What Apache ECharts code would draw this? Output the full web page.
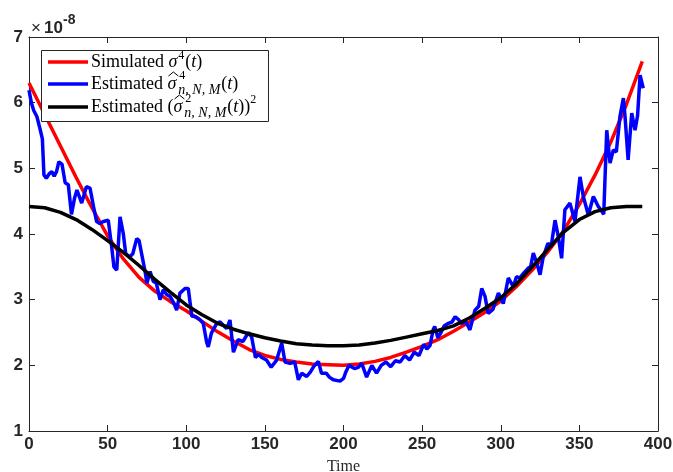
<!DOCTYPE html>
<html>
<head>
<meta charset="utf-8">
<script src="https://cdn.jsdelivr.net/npm/echarts@6/dist/echarts.min.js"></script>
<style>html,body{margin:0;padding:0;background:#fff;}#c{width:673px;height:472px;}</style>
</head>
<body>
<div id="c"></div>
<script>
// ---- data (values in units of 1e-8) ----
const xTicks = [0, 50, 100, 150, 200, 250, 300, 350, 400];
const yTicks = [1, 2, 3, 4, 5, 6, 7];

const redT = [0,10,20,30,40,50,60,70,80,90,100,110,120,130,140,150,160,170,180,190,200,210,220,230,240,250,260,270,280,290,300,310,320,330,340,350,360,370,380,390];
const redV = [6.30,5.82,5.34,4.86,4.40,3.97,3.62,3.34,3.13,2.97,2.83,2.67,2.51,2.37,2.24,2.15,2.09,2.05,2.02,2.01,2.00,2.02,2.06,2.12,2.20,2.29,2.39,2.52,2.66,2.81,2.98,3.20,3.45,3.73,4.05,4.45,4.90,5.40,5.98,6.63];

const blackT = redT;
const blackV = [4.42,4.40,4.33,4.22,4.07,3.90,3.72,3.52,3.31,3.11,2.92,2.77,2.64,2.55,2.48,2.42,2.37,2.33,2.31,2.30,2.30,2.31,2.34,2.38,2.43,2.48,2.53,2.60,2.72,2.87,3.03,3.24,3.50,3.77,4.03,4.22,4.34,4.40,4.42,4.42];

const blueT = [0,1.5,3,5,7,8.5,9.5,11,13,14.5,16,17.5,19,21,23,25,27,29,30.5,33.5,36.5,38.8,41,43,45,47.3,50.4,52.6,54,55.8,57.9,60,61.5,64,66,68.5,70,71.6,73.8,75,77,79,81,83.3,85.4,87.5,89.7,92,93.9,96,99.2,101.3,103.5,106,108.5,110.8,113,114,116,119.4,121.5,124,125.7,127.8,130,131,133,136,139.5,141.6,144,146,148,151,154,157.5,160.7,162.8,166,169,171.3,173.4,176.6,179,181,184,186,189,191,193.5,197.8,200,201.5,203.5,205,207,209.4,211.6,214.7,218,221,224,227,230,233,236,239,242,245,248,251,253,255,257,258,260,262,264,266.7,269,271,273,275,278,280.4,283.6,286,287.9,290,292,295,298.5,301.6,304.8,308,310,312,314.4,317.5,319,320.7,323,325,327,330,332,334.5,336.6,338.7,340.8,344,347.2,350.4,352.5,355.7,358.9,362,364.2,365.5,367.4,369.5,371.6,373.5,375.8,378,379,381,383.3,385.4,387,388.6,390.6];
const blueV = [6.19,6.00,5.88,5.79,5.60,5.45,4.90,4.85,4.92,4.95,4.88,4.95,5.10,5.06,4.78,4.75,4.30,4.55,4.67,4.47,4.72,4.70,4.42,4.19,4.16,4.19,4.21,3.80,3.50,3.45,4.26,4.00,3.70,3.65,3.70,3.93,3.90,3.70,3.43,3.25,3.43,3.28,3.25,3.00,3.15,3.08,3.05,2.95,2.84,3.10,3.17,3.17,2.75,2.74,2.70,2.64,2.35,2.28,2.49,2.64,2.66,2.60,2.56,2.69,2.20,2.18,2.39,2.36,2.50,2.43,2.12,2.17,2.12,2.08,1.97,2.08,2.34,2.05,2.03,2.05,1.78,1.88,1.83,1.90,1.98,2.06,1.88,1.88,1.82,1.78,1.76,1.80,1.90,2.00,1.98,1.95,1.97,2.03,1.82,2.00,1.88,2.00,2.05,1.98,2.07,2.05,2.15,2.08,2.20,2.15,2.32,2.25,2.30,2.54,2.59,2.42,2.50,2.60,2.64,2.66,2.74,2.70,2.64,2.66,2.54,2.84,2.90,3.17,3.05,2.79,2.85,3.10,2.94,3.33,3.20,3.35,3.33,3.40,3.48,3.50,3.71,3.55,3.38,3.65,3.86,3.80,4.21,3.96,3.63,4.37,4.47,4.19,4.87,4.57,4.29,4.57,4.42,4.35,4.30,5.58,5.08,5.28,5.25,5.79,6.07,5.80,5.13,5.84,5.58,5.80,6.42,6.22];

const seriesNames = ['Simulated', 'Estimated hat4', 'Estimated hat2 squared'];
const seriesColors = ['#ff0000', '#0000ff', '#000000'];

// ---- build ----
const zip = (t, v) => t.map((x, i) => [x, v[i]]);
const axisColor = '#262626';
const tickFont = {fontFamily: '"Liberation Sans", Arial, sans-serif', fontSize: 17, fontWeight: 'bold', color: axisColor};

const ctx = document.createElement('canvas').getContext('2d');
function mw(text, font) { ctx.font = font; return ctx.measureText(text).width; }
const F = '18px "Liberation Serif"';
const FI = 'italic 18px "Liberation Serif"';
const S = '12px "Liberation Serif"';
const SI = 'italic 14px "Liberation Serif"';

function rowEls(x0, y, parts) {
  const els = [];
  let x = x0;
  parts.forEach(p => {
    const items = p.stack ? p.stack : [p];
    let adv = 0;
    items.forEach(it => {
      els.push({type: 'text', z: 101, x: x + (it.dx || 0), y: y + (it.dy || 0),
        style: {text: it.t, font: it.f, fill: '#000', textVerticalAlign: 'middle', textAlign: 'left'}});
      adv = Math.max(adv, mw(it.t, it.f) + (it.dx || 0));
    });
    if (p.hat) {
      els.push({type: 'polyline', z: 101,
        shape: {points: [[x + 1, y - 8], [x + adv / 2 + 1.5, y - 12], [x + adv + 2, y - 8]]},
        style: {stroke: '#000', lineWidth: 1, fill: null}});
    }
    x += adv + (p.gap || 0);
  });
  return els;
}

const legendX = 41, legendY = 50, legendW = 227, legendH = 71;
const rows = [62, 84, 107];
const textX = 91;
let graphics = [
  {type: 'rect', z: 100, shape: {x: legendX + 0.5, y: legendY + 0.5, width: legendW, height: legendH},
   style: {fill: '#fff', stroke: axisColor, lineWidth: 1}}
];
rows.forEach((ry, i) => {
  graphics.push({type: 'line', z: 101, shape: {x1: 48, y1: ry, x2: 88, y2: ry},
    style: {stroke: seriesColors[i], lineWidth: 3.5}});
});
graphics = graphics.concat(rowEls(textX, rows[0], [
  {t: 'Simulated ', f: F}, {t: 'σ', f: FI, gap: 1}, {t: '4', f: S, dy: -6, gap: 1},
  {t: '(', f: F}, {t: 't', f: FI}, {t: ')', f: F}
]));
graphics = graphics.concat(rowEls(textX, rows[1], [
  {t: 'Estimated ', f: F}, {t: 'σ', f: FI, gap: 2, hat: true},
  {stack: [{t: '4', f: S, dy: -8, dx: 1}, {t: 'n, N, M', f: SI, dy: 6}], gap: 1},
  {t: '(', f: F}, {t: 't', f: FI}, {t: ')', f: F}
]));
graphics = graphics.concat(rowEls(textX, rows[2], [
  {t: 'Estimated (', f: F}, {t: 'σ', f: FI, gap: 2, hat: true},
  {stack: [{t: '2', f: S, dy: -8, dx: 1}, {t: 'n, N, M', f: SI, dy: 6}], gap: 1},
  {t: '(', f: F}, {t: 't', f: FI}, {t: '))', f: F}, {t: '2', f: S, dy: -7}
]));
// exponent label
graphics.push({type: 'text', z: 101, x: 31, y: 28,
  style: {text: '×', font: '17px "Liberation Sans"', fill: axisColor, textVerticalAlign: 'middle'}});
graphics.push({type: 'text', z: 101, x: 44, y: 28,
  style: {text: '10', font: 'bold 17px "Liberation Sans"', fill: axisColor, textVerticalAlign: 'middle'}});
graphics.push({type: 'text', z: 101, x: 63, y: 20,
  style: {text: '-8', font: 'bold 14px "Liberation Sans"', fill: axisColor, textVerticalAlign: 'middle'}});

const xBase = {type: 'value', min: xTicks[0], max: xTicks[xTicks.length - 1], interval: xTicks[1] - xTicks[0],
  axisLine: {show: true, onZero: false, lineStyle: {color: axisColor, width: 1}},
  axisTick: {show: true, inside: true, length: 6, lineStyle: {color: axisColor}},
  splitLine: {show: false}};
const yBase = {type: 'value', min: yTicks[0], max: yTicks[yTicks.length - 1], interval: yTicks[1] - yTicks[0],
  axisLine: {show: true, onZero: false, lineStyle: {color: axisColor, width: 1}},
  axisTick: {show: true, inside: true, length: 6, lineStyle: {color: axisColor}},
  splitLine: {show: false}};

const option = {
  animation: false,
  backgroundColor: '#fff',
  grid: {left: 29, top: 37, width: 629, height: 394, containLabel: false, outerBoundsMode: 'none'},
  xAxis: [
    Object.assign({}, xBase, {position: 'bottom',
      axisLabel: Object.assign({margin: 5}, tickFont),
      name: 'Time', nameLocation: 'middle', nameGap: 28,
      nameTextStyle: {fontFamily: '"Liberation Serif"', fontSize: 16, color: axisColor}}),
    Object.assign({}, xBase, {position: 'top', axisLabel: {show: false}})
  ],
  yAxis: [
    Object.assign({}, yBase, {position: 'left', axisLabel: Object.assign({margin: 6}, tickFont)}),
    Object.assign({}, yBase, {position: 'right', axisLabel: {show: false}})
  ],
  series: [
    {name: seriesNames[0], type: 'line', data: zip(redT, redV), showSymbol: false, symbol: 'none',
     lineStyle: {color: seriesColors[0], width: 3.5}, itemStyle: {color: seriesColors[0]}, z: 2},
    {name: seriesNames[1], type: 'line', data: zip(blueT, blueV), showSymbol: false, symbol: 'none',
     lineStyle: {color: seriesColors[1], width: 3.5}, itemStyle: {color: seriesColors[1]}, z: 3},
    {name: seriesNames[2], type: 'line', data: zip(blackT, blackV), showSymbol: false, symbol: 'none',
     lineStyle: {color: seriesColors[2], width: 3.5}, itemStyle: {color: seriesColors[2]}, z: 4}
  ],
  graphic: graphics
};
const chart = echarts.init(document.getElementById('c'), null, {renderer: 'canvas'});
chart.setOption(option);
</script>
</body>
</html>
